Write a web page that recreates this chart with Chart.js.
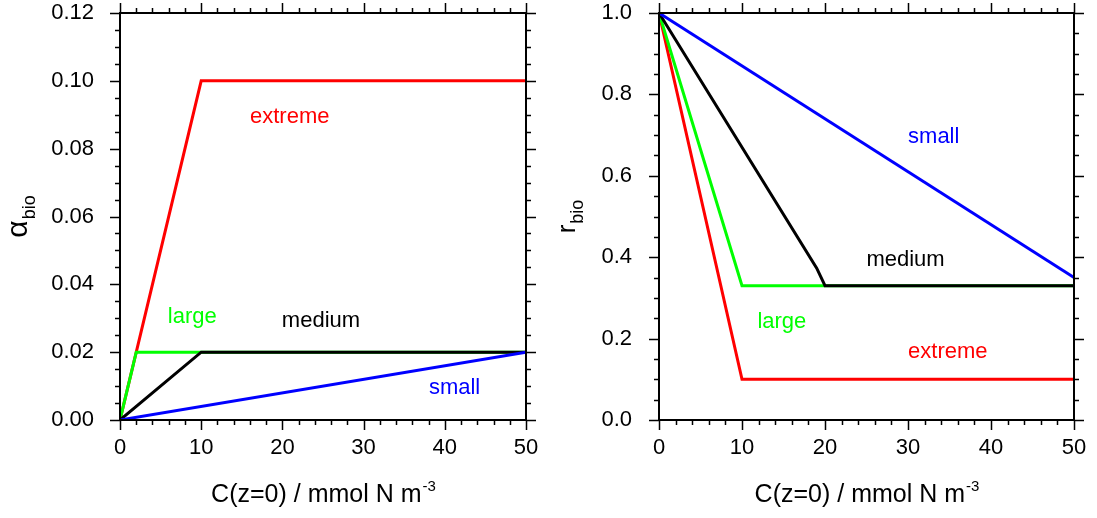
<!DOCTYPE html>
<html>
<head>
<meta charset="utf-8">
<script src="https://cdn.jsdelivr.net/npm/chart.js@4/dist/chart.umd.min.js"></script>
<style>
  html, body { margin:0; padding:0; background:#fff; }
  #wrap { position:relative; width:1097px; height:518px; }
  canvas { position:absolute; top:0; }
</style>
</head>
<body>
<div id="wrap">
  <canvas id="c1" width="548" height="518" style="left:0"></canvas>
  <canvas id="c2" width="549" height="518" style="left:548px"></canvas>
</div>
<script>
// ---- data: left panel (alpha_bio) ----
const alphaExtremeX = [0, 10, 50];
const alphaExtremeY = [0, 0.10, 0.10];
const alphaLargeX = [0, 2, 50];
const alphaLargeY = [0, 0.02, 0.02];
const alphaMediumX = [0, 10, 50];
const alphaMediumY = [0, 0.02, 0.02];
const alphaSmallX = [0, 50];
const alphaSmallY = [0, 0.02];

// ---- data: right panel (r_bio) ----
const rExtremeX = [0, 10, 50];
const rExtremeY = [1, 0.10, 0.10];
const rLargeX = [0, 10, 50];
const rLargeY = [1, 0.33, 0.33];
const rMediumX = [0, 19, 20, 50];
const rMediumY = [1, 0.373, 0.33, 0.33];
const rSmallX = [0, 50];
const rSmallY = [1, 0.35];

// ---- series labels (text, data x, data y of baseline) ----
const labelNames = ['extreme', 'large', 'medium', 'small'];
const labelColors = ['#ff0000', '#00ff00', '#000000', '#0000ff'];
const alphaLabelX = [20.9, 8.9, 24.75, 41.2];
const alphaLabelY = [0.0877, 0.0286, 0.0275, 0.0077];
const rLabelX = [34.8, 14.8, 29.7, 33.1];
const rLabelY = [0.152, 0.226, 0.379, 0.680];

// ---- tick labels ----
const xTickValues = [0, 10, 20, 30, 40, 50];
const alphaTickValues = [0, 0.02, 0.04, 0.06, 0.08, 0.10, 0.12];
const rTickValues = [0, 0.2, 0.4, 0.6, 0.8, 1.0];

const FONT = '"Liberation Sans", Arial, Helvetica, sans-serif';
Chart.defaults.font.family = FONT;
Chart.defaults.color = '#000';

function pts(xs, ys) { return xs.map((x, i) => ({ x: x, y: ys[i] })); }

function ds(xs, ys, color) {
  return { data: pts(xs, ys), borderColor: color, backgroundColor: color,
           borderWidth: 3, pointRadius: 0, fill: false, tension: 0 };
}

const decoPlugin = {
  id: 'deco',
  afterDatasetsDraw(chart) {
    const o = chart.options.plugins.deco;
    const ctx = chart.ctx;
    const a = chart.chartArea;
    const xs = chart.scales.x, ys = chart.scales.y;
    ctx.save();
    // annotations
    ctx.font = '22px ' + FONT;
    ctx.textAlign = 'center';
    ctx.textBaseline = 'alphabetic';
    for (let i = 0; i < o.labels.length; i++) {
      ctx.fillStyle = o.labelColors[i];
      ctx.fillText(o.labels[i], xs.getPixelForValue(o.lx[i]), ys.getPixelForValue(o.ly[i]));
    }
    // frame
    ctx.strokeStyle = '#000';
    ctx.lineWidth = 2;
    ctx.strokeRect(a.left, a.top, a.right - a.left, a.bottom - a.top);
    // ticks
    ctx.lineWidth = 1.5;
    ctx.beginPath();
    const nx = Math.round((o.xMax - o.xMin) / o.xMinor);
    for (let i = 0; i <= nx; i++) {
      const v = o.xMin + i * o.xMinor;
      const len = (i % o.xPer === 0) ? 10 : 5;
      const px = Math.round(xs.getPixelForValue(v)) + 0.5;
      ctx.moveTo(px, a.bottom); ctx.lineTo(px, a.bottom + len);
      ctx.moveTo(px, a.top); ctx.lineTo(px, a.top - len);
    }
    const ny = Math.round((o.yMax - o.yMin) / o.yMinor);
    for (let i = 0; i <= ny; i++) {
      const v = o.yMin + i * o.yMinor;
      const len = (i % o.yPer === 0) ? 10 : 5;
      const py = Math.round(ys.getPixelForValue(v)) + 0.5;
      ctx.moveTo(a.left, py); ctx.lineTo(a.left - len, py);
      ctx.moveTo(a.right, py); ctx.lineTo(a.right + len, py);
    }
    ctx.stroke();
    // x title with superscript
    ctx.fillStyle = '#000';
    const main = 'C(z=0) / mmol N m';
    const sup = '-3';
    ctx.font = '25px ' + FONT;
    const wMain = ctx.measureText(main).width;
    ctx.font = '15px ' + FONT;
    const wSup = ctx.measureText(sup).width;
    const cx = (a.left + a.right) / 2;
    const startX = cx - (wMain + wSup) / 2;
    ctx.textAlign = 'left';
    ctx.font = '25px ' + FONT;
    ctx.fillText(main, startX, o.xTitleBase);
    ctx.font = '15px ' + FONT;
    ctx.fillText(sup, startX + wMain + 1, o.xTitleBase - 11);
    // y title rotated with subscript
    ctx.save();
    ctx.translate(o.yTitleX, (a.top + a.bottom) / 2);
    ctx.rotate(-Math.PI / 2);
    ctx.font = o.yMainFont + 'px ' + FONT;
    const wm = ctx.measureText(o.yMain).width;
    ctx.font = '18px ' + FONT;
    const ws = ctx.measureText('bio').width;
    const sx = -(wm + ws + 1) / 2;
    ctx.font = o.yMainFont + 'px ' + FONT;
    ctx.fillText(o.yMain, sx, 0);
    ctx.font = '18px ' + FONT;
    ctx.fillText('bio', sx + wm + 1, o.ySubOff);
    ctx.restore();
    ctx.restore();
  }
};

function makeChart(id, datasets, yMin, yMax, yDec, yTicks, pad, yWidth, deco) {
  return new Chart(document.getElementById(id), {
    type: 'line',
    data: { datasets: datasets },
    plugins: [decoPlugin],
    options: {
      responsive: false,
      animation: false,
      devicePixelRatio: 1,
      layout: { padding: pad },
      plugins: { legend: { display: false }, tooltip: { enabled: false }, deco: deco },
      scales: {
        x: {
          type: 'linear', min: 0, max: 50,
          afterBuildTicks: s => { s.ticks = xTickValues.map(v => ({ value: v })); },
          ticks: { font: { size: 22 }, color: '#000', padding: 15, maxRotation: 0,
                   callback: v => String(v) },
          grid: { display: false, drawTicks: false },
          border: { display: false },
          afterFit: s => { s.height = 98; s.paddingLeft = 0; s.paddingRight = 0; }
        },
        y: {
          type: 'linear', min: yMin, max: yMax,
          afterBuildTicks: s => { s.ticks = yTicks.map(v => ({ value: v })); },
          ticks: { font: { size: 22 }, color: '#000', padding: deco.yPad,
                   callback: v => Number(v).toFixed(yDec) },
          grid: { display: false, drawTicks: false },
          border: { display: false },
          afterFit: s => { s.width = yWidth; s.paddingTop = 0; s.paddingBottom = 0; }
        }
      }
    }
  });
}

// draw order: first dataset is drawn on top in Chart.js
makeChart('c1', [
  ds(alphaSmallX, alphaSmallY, '#0000ff'),
  ds(alphaMediumX, alphaMediumY, '#000000'),
  ds(alphaLargeX, alphaLargeY, '#00ff00'),
  ds(alphaExtremeX, alphaExtremeY, '#ff0000')
], 0, 0.12, 2, alphaTickValues, { top: 13, right: 22, left: 0, bottom: 0 }, 120, {
  labels: labelNames, labelColors: labelColors, lx: alphaLabelX, ly: alphaLabelY,
  xMin: 0, xMax: 50, xMinor: 2, xPer: 5,
  yMin: 0, yMax: 0.12, yMinor: 0.005, yPer: 4,
  xTitleBase: 502, yTitleX: 27, yMain: 'α', yMainFont: 30, ySubOff: 8, yPad: 26
});

makeChart('c2', [
  ds(rSmallX, rSmallY, '#0000ff'),
  ds(rMediumX, rMediumY, '#000000'),
  ds(rLargeX, rLargeY, '#00ff00'),
  ds(rExtremeX, rExtremeY, '#ff0000')
], 0, 1.0, 1, rTickValues, { top: 13, right: 23, left: 0, bottom: 0 }, 111, {
  labels: labelNames, labelColors: labelColors, lx: rLabelX, ly: rLabelY,
  xMin: 0, xMax: 50, xMinor: 2, xPer: 5,
  yMin: 0, yMax: 1.0, yMinor: 0.05, yPer: 4,
  xTitleBase: 502, yTitleX: 27, yMain: 'r', yMainFont: 26, ySubOff: 8, yPad: 27
});
</script>
</body>
</html>
